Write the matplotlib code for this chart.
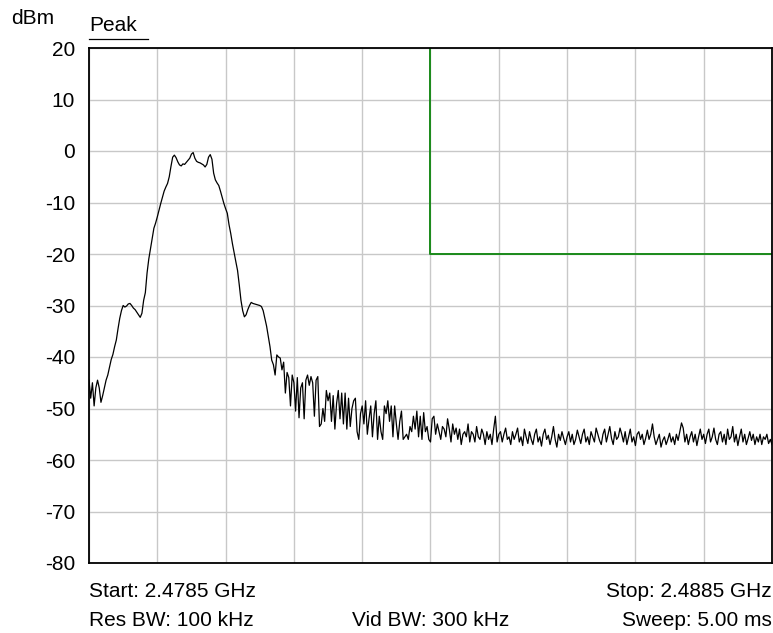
import numpy as np
import matplotlib
matplotlib.use("Agg")
import matplotlib.pyplot as plt

plt.rcParams['font.family'] = ['Liberation Sans', 'DejaVu Sans']

start_mhz = 2478.5
stop_mhz = 2488.5
y_ticks = [20, 10, 0, -10, -20, -30, -40, -50, -60, -70, -80]

# trace levels (dBm), 401 sweep points
level_dbm = [
    -44.5, -48.0, -45.0, -49.5, -46.0, -44.5, -46.0, -48.8, -47.5, -46.0,
    -44.5, -43.5, -42.0, -40.5, -39.5, -38.0, -36.7, -34.5, -32.5, -31.0,
    -30.0, -30.3, -30.1, -29.7, -29.6, -30.0, -30.5, -30.8, -31.3, -31.8,
    -32.3, -31.5, -29.0, -27.5, -23.7, -21.0, -19.0, -17.0, -15.0, -14.0,
    -12.8, -11.5, -10.2, -9.0, -7.8, -7.0, -6.3, -5.0, -3.0, -1.2,
    -0.8, -1.3, -2.1, -2.7, -2.9, -2.5, -2.6, -2.2, -1.8, -1.4,
    -0.6, -0.3, -1.4, -2.0, -2.2, -2.3, -2.5, -2.7, -3.1, -2.6,
    -1.2, -0.7, -1.6, -4.3, -5.6, -6.2, -6.7, -7.8, -9.0, -10.2,
    -11.2, -12.1, -14.3, -16.0, -18.0, -19.8, -21.5, -23.2, -26.0, -29.0,
    -31.0, -32.2, -31.8, -30.8, -30.0, -29.4, -29.6, -29.7, -29.8, -29.9,
    -30.0, -30.2, -31.0, -32.5, -34.0, -36.0, -38.0, -40.6, -41.5, -43.5,
    -39.6, -40.0, -40.2, -42.5, -41.0, -47.0, -43.0,
    -44.0, -49.5, -43.5, -45.0,
    -50.5, -44.0, -51.8, -46.0, -45.0, -52.0, -44.5, -43.5, -45.5, -43.8,
    -45.0, -51.5, -44.5, -43.8, -53.5, -53.0, -50.0, -52.5, -46.5, -48.5,
    -47.0, -52.5, -47.5, -54.0, -49.0, -46.5, -52.0, -47.0, -53.0, -47.0,
    -54.0, -48.0, -53.5, -50.0, -48.5, -48.0, -54.5, -56.0, -51.0, -49.5,
    -53.0, -48.5, -55.0, -52.0, -49.5, -55.5, -51.0, -48.5, -56.0, -51.5,
    -54.5, -56.0, -49.5, -51.0, -48.5, -52.5, -49.5, -55.5, -49.5, -53.0,
    -56.0, -52.5, -50.5, -56.0, -55.5, -55.0, -56.0, -53.5, -54.5, -51.5,
    -54.0, -50.5, -55.5, -51.5, -56.0, -50.8, -54.5, -53.5, -56.0, -56.5,
    -52.0, -51.5, -55.0, -53.0, -54.5, -56.0, -53.5, -54.0, -55.5, -52.0,
    -54.0, -56.5, -53.0, -55.0, -53.8, -56.0, -54.0, -57.0, -55.0, -54.5,
    -55.5, -53.0, -56.5, -54.5, -55.0, -56.5, -53.5, -55.5, -56.0, -54.0,
    -55.0, -57.0, -54.5, -56.0, -55.0, -57.0, -54.0, -51.5, -56.5, -55.0,
    -54.5, -56.5, -55.0, -53.8, -56.0, -55.5, -57.0, -54.5, -56.0, -55.0,
    -53.8, -56.5, -55.5, -57.2, -54.0, -55.5, -56.8, -54.5, -56.0, -57.0,
    -55.0, -54.0, -56.5, -55.5, -57.3, -55.0, -54.0, -56.0, -55.2, -57.0,
    -55.5, -53.5, -56.0, -57.5, -55.0, -56.2, -54.5, -55.8, -57.0, -55.5,
    -54.5, -56.5, -55.0, -57.0, -56.0, -54.2, -55.5, -56.8, -55.0, -54.0,
    -56.5, -55.5, -57.0, -54.5, -55.5, -56.5, -53.8, -55.0, -56.2, -57.0,
    -55.0, -54.0, -56.5, -55.0, -53.5, -55.8, -57.0, -54.5, -56.0, -55.5,
    -53.8, -55.0, -56.5, -54.5, -57.0, -55.5, -54.0, -56.5, -55.5, -57.2,
    -55.0, -54.5, -56.0, -55.0, -57.0, -55.8, -54.2, -56.0, -55.0, -53.0,
    -55.5, -57.0, -56.0, -55.0, -57.5, -56.2, -55.5, -57.0, -56.0, -54.8,
    -56.5, -55.5, -57.0, -55.0, -56.2, -54.5, -52.8, -53.8, -56.5, -55.0,
    -57.0, -55.5, -54.5, -56.5, -55.0, -57.2, -55.5, -54.0, -56.0, -55.0,
    -56.8, -55.0, -54.0, -56.5, -55.5, -53.8, -56.0, -57.0, -55.0, -54.5,
    -56.5, -55.0, -57.0, -54.0, -56.0, -55.5, -53.5, -56.5, -55.0, -57.2,
    -55.5, -54.0, -56.5, -55.0, -57.0, -55.8, -54.5, -56.2, -55.0, -57.0,
    -55.5, -56.5, -55.0, -57.0, -55.5, -56.0, -55.0, -56.8, -56.0, -57.0,
]

limit_freq_mhz = [2483.5, 2483.5, 2488.5]
limit_level_dbm = [20, -20, -20]

freq_mhz = np.linspace(start_mhz, stop_mhz, len(level_dbm))

W, H = 773, 633
fig = plt.figure(figsize=(W/100, H/100), dpi=100)
ax = fig.add_axes([89/W, 1-563/H, (772-89)/W, (563-48)/H])

fs = 15

ax.set_xlim(start_mhz, stop_mhz)
ax.set_ylim(-80, 20)
ax.set_xticks(np.arange(start_mhz, stop_mhz + 0.01, 1.0))
ax.set_yticks(y_ticks)
ax.set_xticklabels([])
ax.set_yticklabels([str(v) for v in y_ticks], fontsize=fs)
ax.tick_params(axis='both', length=0, pad=10)
ax.tick_params(axis='x', pad=0)
ax.grid(True, color='#c8c8c8', linewidth=1.0)
ax.set_axisbelow(True)
for s in ax.spines.values():
    s.set_color('black')
    s.set_linewidth(1.3)

ax.plot(limit_freq_mhz, limit_level_dbm, color='#1a8a1a', linewidth=1.4)
ax.plot(freq_mhz, level_dbm, color='black', linewidth=0.9)

fig.text(11/W, 1-24/H, 'dBm', fontsize=fs, ha='left', va='baseline')
fig.text(89/W, 1-31/H, 'Peak', fontsize=fs, ha='left', va='baseline')
fig.add_artist(plt.Line2D([89/W, 148/W], [1-38.5/H, 1-38.5/H], color='black', linewidth=0.9))

fig.text(89/W, 1-597/H, 'Start: 2.4785 GHz', fontsize=fs, ha='left', va='baseline')
fig.text(772/W, 1-597/H, 'Stop: 2.4885 GHz', fontsize=fs, ha='right', va='baseline')
fig.text(89/W, 1-626/H, 'Res BW: 100 kHz', fontsize=fs, ha='left', va='baseline')
fig.text(431/W, 1-626/H, 'Vid BW: 300 kHz', fontsize=fs, ha='center', va='baseline')
fig.text(772/W, 1-626/H, 'Sweep: 5.00 ms', fontsize=fs, ha='right', va='baseline')

fig.savefig('out.png', dpi=100)
